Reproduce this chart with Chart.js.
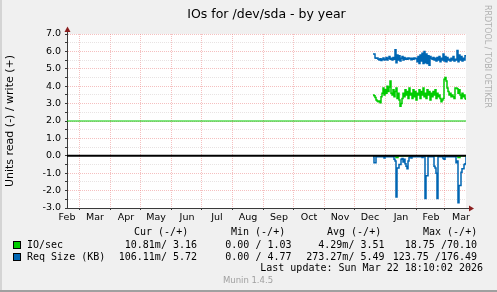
<!DOCTYPE html>
<html>
<head>
<meta charset="utf-8">
<script src="https://cdn.jsdelivr.net/npm/chart.js@4.4.0/dist/chart.umd.min.js"></script>
<style>
  html, body { margin: 0; padding: 0; background: #f0f0f0; }
  canvas { display: block; }
</style>
</head>
<body>
<canvas id="chart" width="497" height="292"></canvas>
<script>
// Texts
const chartTitle = 'IOs for /dev/sda - by year';
const yTitle = 'Units read (-) / write (+)';
const vendorText = 'RRDTOOL / TOBI OETIKER';

// x axis: days counted from Mar 1 of the first year
const xMin = -12, xMax = 387;
const monthStartDays = [0, 31, 61, 92, 122, 153, 184, 214, 245, 275, 306, 337, 365];
const monthLabelDays = [-12, 16, 47, 77, 108, 138, 169, 200, 230, 261, 291, 322, 352, 382];
const monthLabels = ['Feb', 'Mar', 'Apr', 'May', 'Jun', 'Jul', 'Aug', 'Sep', 'Oct', 'Nov', 'Dec', 'Jan', 'Feb', 'Mar'];

// y axis
const yTicks = [-3, -2, -1, 0, 1, 2, 3, 4, 5, 6, 7];
const yTickLabels = ['-3.0', '-2.0', '-1.0', '0.0', '1.0', '2.0', '3.0', '4.0', '5.0', '6.0', '7.0'];

// series, one value per day starting at startDay
const startDay = 294;
const ioWrite = [
  3.5, 3.45, 3.35, 3.2, 3.15, 3.1, 3.15, 3.05, 3.4, 3.6,
  3.9, 3.5, 3.8, 3.6, 4.0, 3.7, 3.95, 4.3, 3.6, 3.5,
  3.8, 3.4, 3.7, 3.9, 3.3, 3.6, 3.2, 2.85, 3.0, 3.3,
  3.6, 3.4, 3.8, 3.5, 3.7, 3.3, 3.9, 3.5, 3.6, 3.3,
  3.8, 3.4, 3.7, 3.2, 3.6, 3.5, 3.8, 3.3, 3.7, 3.5,
  3.9, 3.4, 3.6, 3.3, 3.8, 3.5, 3.7, 3.2, 3.6, 3.4,
  3.7, 3.5, 3.8, 3.3, 3.6, 3.4, 3.5, 3.3, 3.1, 3.2,
  3.3, 4.4, 4.5, 4.3, 3.9, 3.7, 3.5, 3.6, 3.4, 3.5,
  3.4, 3.3, 3.9, 3.9, 3.85, 3.6, 3.8, 3.5, 3.3, 3.6,
  3.4, 3.5, 3.3, 3.2
];
const ioRead = [
  0, 0, 0, 0, 0, 0, 0, 0, 0, 0,
  0, 0, 0, 0, 0, 0, 0, 0, 0, 0,
  0, 0, 0, -0.1, -0.1, 0, 0, 0, 0, 0,
  0, 0, 0, 0, 0, 0, 0, 0, 0, 0,
  0, 0, 0, 0, 0, 0, 0, 0, 0, 0,
  0, 0, 0, 0, 0, 0, 0, 0, 0, 0,
  0, 0, 0, 0, 0, 0, 0, 0, 0, 0,
  0, 0, 0, 0, 0, 0, 0, 0, 0, 0,
  0, 0, 0, 0, 0, -0.1, -0.1, 0, 0, 0,
  0, 0, 0, 0
];
const reqWrite = [
  5.85, 5.85, 5.62, 5.6, 5.62, 5.55, 5.5, 5.58, 5.48, 5.55,
  5.62, 5.5, 5.55, 5.65, 5.5, 5.6, 5.7, 5.55, 5.6, 5.5,
  5.65, 5.55, 6.1, 5.35, 5.8, 5.5, 5.75, 5.45, 5.6, 5.7,
  5.5, 5.65, 5.55, 5.6, 5.55, 5.62, 5.58, 5.6, 5.52, 5.6,
  5.55, 5.62, 5.58, 5.6, 5.4, 5.7, 5.3, 5.8, 5.45, 5.9,
  5.3, 6.0, 5.35, 5.85, 5.3, 5.75, 5.2, 5.7, 5.6, 5.55,
  5.65, 5.5, 5.6, 5.45, 5.65, 5.5, 5.7, 5.4, 5.6, 5.5,
  5.85, 5.45, 5.7, 5.4, 5.65, 5.5, 5.55, 5.45, 5.6, 5.5,
  5.7, 5.45, 5.55, 5.5, 6.05, 5.4, 5.8, 5.5, 5.7, 5.45,
  5.6, 5.5, 5.75, 5.7
];
const reqRead = [
  -0.05, -0.4, -0.4, -0.05, -0.05, -0.05, -0.05, -0.05, -0.05, -0.05,
  -0.05, -0.12, -0.05, -0.05, -0.05, -0.05, -0.05, -0.05, -0.05, -0.05,
  -0.05, -0.2, -0.3, -2.37, -0.7, -0.7, -0.5, -0.5, -0.2, -0.15,
  -0.35, -0.2, -0.45, -0.6, -0.75, -0.3, -0.1, -0.05, -0.12, -0.05,
  -0.05, -0.05, -0.05, -0.05, -0.05, -0.05, -0.05, -0.05, -0.05, -0.1,
  -0.05, -0.05, -2.45, -1.15, -1.15, -0.05, -0.05, -0.05, -0.05, -0.05,
  -0.05, -0.6, -0.7, -1.0, -2.45, -0.05, -0.05, -0.05, -0.05, -0.05,
  -0.15, -0.2, -0.05, -0.05, -0.05, -0.05, -0.05, -0.05, -0.05, -0.05,
  -0.05, -0.05, -0.05, -0.4, -0.3, -2.7, -1.7, -1.7, -0.95, -0.75,
  -0.75, -0.5, -0.45, -0.05
];
const refLevel = 2.0;
const zeroLevel = 0;

// legend table
const legendNames = ['IO/sec', 'Req Size (KB)'];
const legendColors = ['#00cc00', '#0066b3'];
const legendHeaders = ['Cur (-/+)', 'Min (-/+)', 'Avg (-/+)', 'Max (-/+)'];
const legendCur = ['10.81m/ 3.16', '106.11m/ 5.72'];
const legendMin = ['0.00 / 1.03', '0.00 / 4.77'];
const legendAvg = ['4.29m/ 3.51', '273.27m/ 5.49'];
const legendMax = ['18.75 /70.10', '123.75 /176.49'];
const lastUpdate = 'Last update: Sun Mar 22 18:10:02 2026';
const muninVersion = 'Munin 1.4.5';

const axisColor = '#3a3a3a';
const arrowColor = '#8b1f1f';
const majorGrid = 'rgba(235, 130, 130, 0.5)';
const minorGrid = 'rgba(210, 200, 200, 0.5)';
const sans = 'DejaVu Sans';
const mono = 'DejaVu Sans Mono';

function toPoints(values) {
  return values.map((v, i) => ({ x: startDay + i, y: v }));
}

function flatLine(level) {
  return [{ x: xMin, y: level }, { x: xMax, y: level }];
}

function lineSet(label, data, color, width) {
  return {
    label: label,
    data: data,
    borderColor: color,
    borderWidth: width,
    pointRadius: 0,
    stepped: true,
    fill: false,
    xAxisID: 'x',
    yAxisID: 'y',
  };
}

// background, frame, arrows and the legend table
const munin = {
  id: 'munin',
  beforeDraw(chart) {
    const { ctx, chartArea: a, width, height } = chart;
    ctx.save();
    ctx.fillStyle = '#f0f0f0';
    ctx.fillRect(0, 0, width, height);
    ctx.fillStyle = '#d4d4d4';
    ctx.fillRect(0, 0, 2, height);
    ctx.fillStyle = '#a0a0a0';
    ctx.fillRect(0, height - 2, width, 2);
    ctx.fillStyle = '#ffffff';
    ctx.fillRect(a.left, a.top, a.right - a.left, a.bottom - a.top);
    ctx.restore();
  },
  afterDraw(chart) {
    const { ctx, chartArea: a } = chart;
    ctx.save();

    // axis extensions and arrows
    ctx.strokeStyle = axisColor;
    ctx.lineWidth = 1;
    ctx.beginPath();
    ctx.moveTo(a.left + 0.5, a.top);
    ctx.lineTo(a.left + 0.5, a.top - 3);
    ctx.moveTo(a.right, a.bottom + 0.5);
    ctx.lineTo(a.right + 3, a.bottom + 0.5);
    ctx.stroke();
    ctx.fillStyle = arrowColor;
    ctx.beginPath();
    ctx.moveTo(a.left + 0.5, a.top - 7.5);
    ctx.lineTo(a.left - 2.5, a.top - 2);
    ctx.lineTo(a.left + 3.5, a.top - 2);
    ctx.closePath();
    ctx.fill();
    ctx.beginPath();
    ctx.moveTo(a.right + 8, a.bottom + 0.5);
    ctx.lineTo(a.right + 3, a.bottom - 2.5);
    ctx.lineTo(a.right + 3, a.bottom + 3.5);
    ctx.closePath();
    ctx.fill();

    // vendor text on the right
    ctx.save();
    ctx.translate(487, 5);
    ctx.rotate(Math.PI / 2);
    ctx.font = '8px "' + sans + '"';
    ctx.fillStyle = '#b0b0b0';
    ctx.textAlign = 'left';
    ctx.textBaseline = 'middle';
    ctx.fillText(vendorText, 0, 0);
    ctx.restore();

    // legend table
    ctx.font = '10px "' + mono + '"';
    ctx.fillStyle = '#000';
    ctx.textBaseline = 'middle';
    ctx.textAlign = 'left';
    const headerX = [134, 231, 327, 423];
    legendHeaders.forEach((h, i) => ctx.fillText(h, headerX[i], 232.5));

    const rowY = [245, 257];
    const colRight = [197, 291.5, 384.5, 477];
    const cols = [legendCur, legendMin, legendAvg, legendMax];
    legendNames.forEach((name, r) => {
      ctx.fillStyle = legendColors[r];
      ctx.fillRect(13, rowY[r] - 4, 8, 8);
      ctx.strokeStyle = '#000';
      ctx.strokeRect(13.5, rowY[r] - 3.5, 7, 7);
      ctx.fillStyle = '#000';
      ctx.textAlign = 'left';
      ctx.fillText(name, 27, rowY[r]);
      ctx.textAlign = 'right';
      cols.forEach((col, c) => ctx.fillText(col[r], colRight[c], rowY[r]));
    });
    ctx.textAlign = 'right';
    ctx.fillText(lastUpdate, 483, 268.5);

    ctx.font = '8.5px "' + sans + '"';
    ctx.fillStyle = '#a0a0a0';
    ctx.textAlign = 'center';
    ctx.fillText(muninVersion, 248, 281);
    ctx.restore();
  }
};

const ctx = document.getElementById('chart').getContext('2d');
const chart = new Chart(ctx, {
  type: 'line',
  data: {
    datasets: [
      lineSet('zero', flatLine(zeroLevel), '#000000', 2),
      lineSet('Req Size write', toPoints(reqWrite), '#0066b3', 1.5),
      lineSet('Req Size read', toPoints(reqRead), '#0066b3', 1.5),
      lineSet('IO/sec write', toPoints(ioWrite), '#00cc00', 1.5),
      lineSet('IO/sec read', toPoints(ioRead), '#00cc00', 1.5),
      lineSet('level', flatLine(refLevel), '#00cc00', 1),
    ]
  },
  options: {
    responsive: false,
    animation: false,
    events: [],
    layout: { padding: { left: 0, right: 31, top: 0, bottom: 62 } },
    plugins: {
      legend: { display: false },
      tooltip: { enabled: false },
      title: {
        display: true,
        text: chartTitle,
        fullSize: false,
        color: '#000',
        font: { family: sans, size: 12.5, weight: 'normal', lineHeight: 1.2 },
        padding: { top: 6.8, bottom: 12.2 }
      }
    },
    scales: {
      x: {
        type: 'linear',
        position: 'bottom',
        min: xMin,
        max: xMax,
        afterBuildTicks: axis => { axis.ticks = monthStartDays.map(v => ({ value: v })); },
        afterFit: scale => { scale.height = 2; },
        ticks: { display: false },
        grid: { color: majorGrid, tickLength: 2, tickColor: axisColor, tickBorderDash: [] },
        border: { color: axisColor, dash: [1, 1] }
      },
      xLabels: {
        type: 'linear',
        position: 'bottom',
        min: xMin,
        max: xMax,
        afterBuildTicks: axis => { axis.ticks = monthLabelDays.map(v => ({ value: v })); },
        afterFit: scale => { scale.height = 20; },
        ticks: {
          autoSkip: false,
          maxRotation: 0,
          padding: 2,
          color: '#000',
          font: { family: sans, size: 9.5 },
          callback: (v, i) => monthLabels[i]
        },
        grid: { display: false, drawTicks: false },
        border: { display: false }
      },
      y: {
        type: 'linear',
        min: -3,
        max: 7,
        afterBuildTicks: axis => {
          const t = [];
          for (let v = -3; v <= 7; v += 0.5) t.push({ value: v });
          axis.ticks = t;
        },
        afterFit: scale => { scale.width = 67; },
        ticks: {
          autoSkip: false,
          padding: 4,
          color: '#000',
          font: { family: sans, size: 9.5 },
          callback: v => {
            const i = yTicks.indexOf(v);
            return i >= 0 ? yTickLabels[i] : '';
          }
        },
        grid: {
          color: c => (Number.isInteger(c.tick.value) ? majorGrid : minorGrid),
          tickLength: 2,
          tickColor: axisColor,
          tickBorderDash: []
        },
        border: { color: axisColor, dash: [1, 1] },
        title: {
          display: true,
          text: yTitle,
          color: '#000',
          font: { family: sans, size: 11 },
          padding: { top: 3.4, bottom: 0 }
        }
      }
    }
  },
  plugins: [munin]
});
</script>
</body>
</html>
